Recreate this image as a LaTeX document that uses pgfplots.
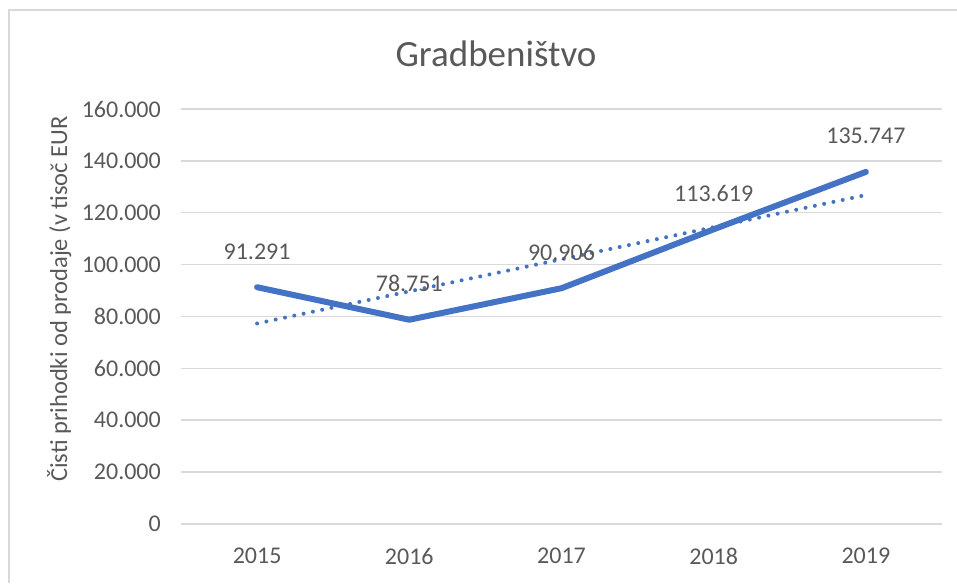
\documentclass[border=0pt]{standalone}
\usepackage{pgfplots}
\pgfplotsset{compat=1.18}
\usepackage{fontspec}
\setmainfont{Carlito}
\definecolor{txt}{HTML}{595959}
\definecolor{grd}{HTML}{D9D9D9}
\definecolor{ln}{HTML}{4472C4}
\begin{document}
\begin{tikzpicture}[x=1pt,y=1pt]
\useasboundingbox (0,0) rectangle (957,583);
\draw[grd, line width=1.5pt] (9,0) -- (9,573) -- (957,573);
\node[anchor=base, text=txt, font=\fontsize{37}{42}\selectfont] at (496,516) {Gradbeništvo};
\node[rotate=90, anchor=base, text=txt, inner sep=0pt, font=\fontsize{24.5}{28}\selectfont] at (67,284) {Čisti prihodki od prodaje (v tisoč EUR};
\begin{axis}[
  at={(181pt,59pt)}, anchor=south west,
  scale only axis, width=761pt, height=415pt,
  xmin=-0.5, xmax=4.5, ymin=0, ymax=160000,
  scaled y ticks=false,
  clip=false,
  axis line style={draw=none},
  major tick style={draw=none},
  ymajorgrids, grid style={grd, line width=1.5pt},
  xtick={0,1,2,3,4},
  xticklabels={2015,2016,2017,2018,2019},
  ytick={0,20000,40000,60000,80000,100000,120000,140000,160000},
  yticklabels={0,20.000,40.000,60.000,80.000,100.000,120.000,140.000,160.000},
  /pgf/number format/assume math mode=true,
  ticklabel style={text=txt, font=\fontsize{24}{28}\selectfont, inner sep=0pt},
  yticklabel style={anchor=east, xshift=-20pt},
  xticklabel style={anchor=north, yshift=-24pt},
]
\addplot[ln, line width=4pt, line cap=round, dash pattern=on 0pt off 9.5pt] coordinates {(0,77307) (4,126819)};
\addplot[ln, line width=6pt, line cap=round, line join=round,
  nodes near coords, point meta=explicit symbolic,
  every node near coord/.append style={text=txt, font=\fontsize{24}{28}\selectfont, inner sep=0pt, anchor=south, yshift=25pt}]
  coordinates {(0,91291) [91.291] (1,78751) [78.751] (2,90906) [90.906] (3,113619) [113.619] (4,135747) [135.747]};
\end{axis}
\end{tikzpicture}
\end{document}
